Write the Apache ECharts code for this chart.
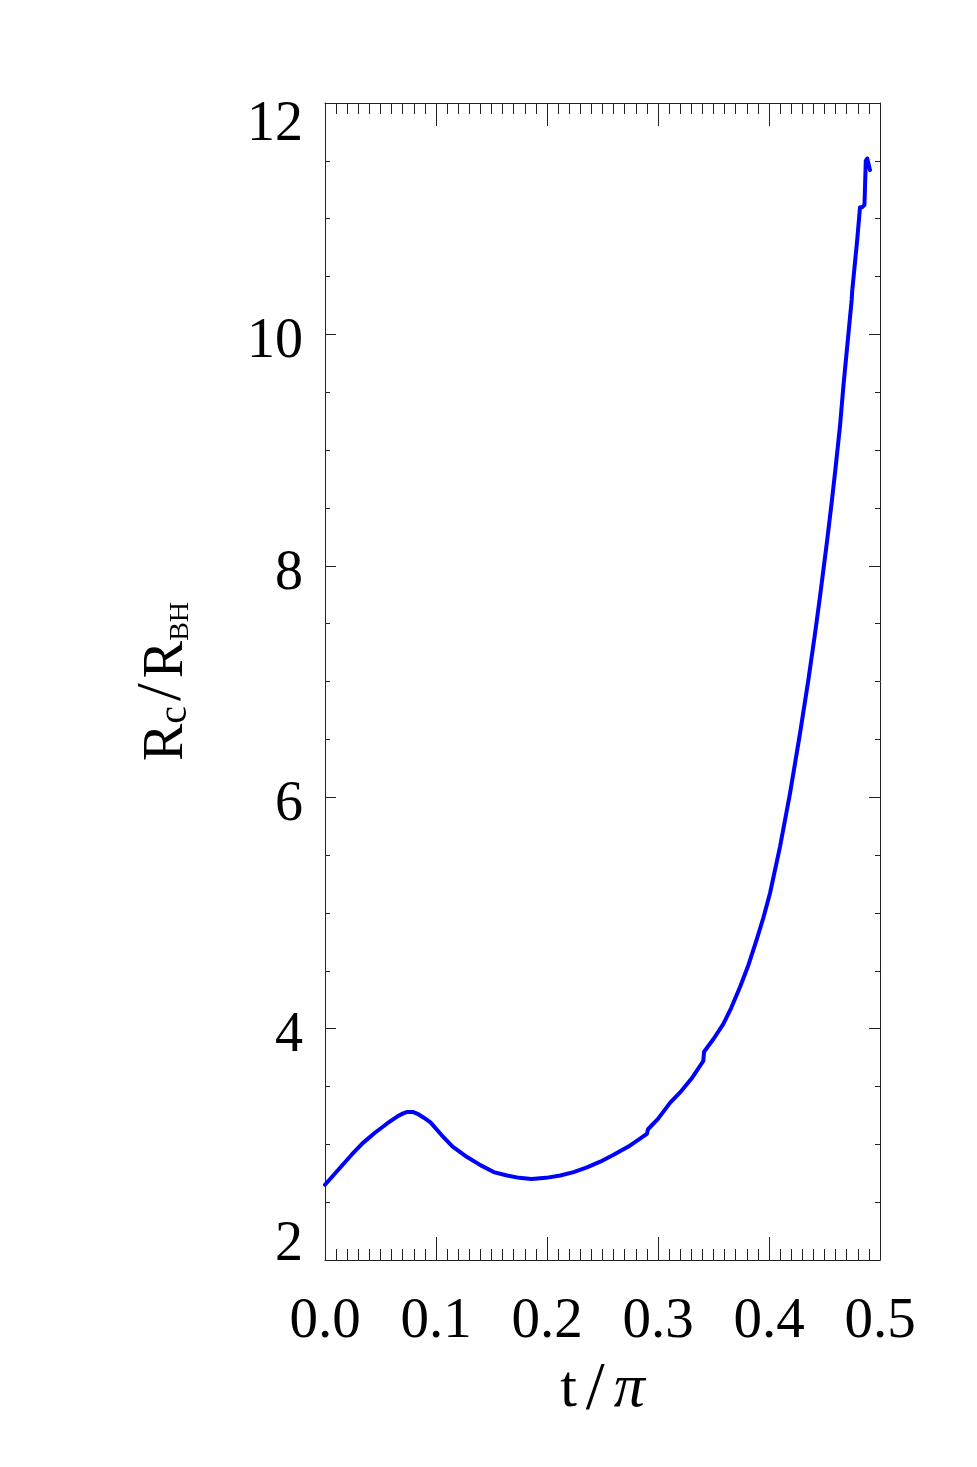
<!DOCTYPE html>
<html>
<head>
<meta charset="utf-8">
<script src="https://cdn.jsdelivr.net/npm/echarts@6/dist/echarts.min.js"></script>
<style>
html,body{margin:0;padding:0;background:#fff;}
#chart{width:977px;height:1467px;}
</style>
</head>
<body>
<div id="chart"></div>
<script>
// t / pi values
const tValues = [0, 0.012, 0.024, 0.034, 0.045, 0.056, 0.065, 0.070, 0.074, 0.079, 0.084, 0.089, 0.095, 0.105, 0.115, 0.128, 0.140, 0.152, 0.164, 0.175, 0.186, 0.199, 0.212, 0.224, 0.236, 0.248, 0.260, 0.275, 0.290, 0.291, 0.300, 0.311, 0.321, 0.3304, 0.3408, 0.3415, 0.350, 0.3589, 0.366, 0.3739, 0.3815, 0.3889, 0.395, 0.4009, 0.4099, 0.4189, 0.4279, 0.4354, 0.4414, 0.4459, 0.4520, 0.4565, 0.4600, 0.4640, 0.4670, 0.4710, 0.4745, 0.4750, 0.4795, 0.4820, 0.4840, 0.4860, 0.4872, 0.4885, 0.4910];
// R_c / R_BH values
const rValues = [2.65, 2.78, 2.91, 3.01, 3.10, 3.18, 3.24, 3.265, 3.28, 3.28, 3.26, 3.23, 3.19, 3.08, 2.98, 2.89, 2.82, 2.76, 2.73, 2.71, 2.70, 2.71, 2.73, 2.76, 2.80, 2.85, 2.91, 2.99, 3.09, 3.13, 3.22, 3.36, 3.46, 3.57, 3.72, 3.80, 3.91, 4.04, 4.18, 4.36, 4.55, 4.77, 4.96, 5.17, 5.57, 6.03, 6.55, 7.01, 7.41, 7.73, 8.19, 8.55, 8.85, 9.21, 9.55, 9.95, 10.30, 10.38, 10.82, 11.10, 11.10, 11.12, 11.50, 11.52, 11.42];
const xTickLabels = ['0.0', '0.1', '0.2', '0.3', '0.4', '0.5'];
const yTickLabels = ['2', '4', '6', '8', '10', '12'];

const FONT = 'Liberation Serif';
const AX = '#222';
const seriesData = tValues.map((t, i) => [t, rValues[i]]);

const chart = echarts.init(document.getElementById('chart'), null, {renderer: 'canvas'});

const tokenBase = {fontFamily: FONT, fontSize: 56, lineHeight: 56, color: '#000'};

const xBase = (pos, showLabels) => ({
  type: 'value', position: pos, min: 0, max: 0.5, interval: 0.1,
  axisLine: {show: true, onZero: false, lineStyle: {color: AX, width: 1}},
  axisTick: {show: true, inside: true, length: 23, lineStyle: {color: AX, width: 1}},
  minorTick: {show: true, splitNumber: 10, length: 11, lineStyle: {color: AX, width: 1}},
  splitLine: {show: false},
  axisLabel: {
    show: showLabels, margin: 34, fontFamily: FONT, fontSize: 57, color: '#000',
    formatter: v => xTickLabels[Math.round(v * 10)]
  }
});
const yBase = (pos, showLabels) => ({
  type: 'value', position: pos, min: 2, max: 12, interval: 2,
  axisLine: {show: true, onZero: false, lineStyle: {color: AX, width: 1}},
  axisTick: {show: true, inside: true, length: 11, lineStyle: {color: AX, width: 1}},
  minorTick: {show: true, splitNumber: 4, length: 5, lineStyle: {color: AX, width: 1}},
  splitLine: {show: false},
  axisLabel: {
    show: showLabels, margin: 22, fontFamily: FONT, fontSize: 56, color: '#000',
    formatter: v => {
      const i = Math.round((v - 2) / 2);
      const key = i === yTickLabels.length - 1 ? 'hi' : (i === 0 ? 'lo' : 'mid');
      return '{' + key + '|' + yTickLabels[i] + '}';
    },
    rich: {
      hi: Object.assign({}, tokenBase, {padding: [44, 0, 0, 0]}),
      mid: Object.assign({}, tokenBase, {padding: [16, 0, 0, 0]}),
      lo: Object.assign({}, tokenBase, {padding: [0, 0, 30, 0]})
    }
  }
});

const xBottom = xBase('bottom', true);
xBottom.name = '{t|t}{s|/}{p|π}';
xBottom.nameLocation = 'middle';
xBottom.nameGap = 96;
xBottom.nameTextStyle = {
  fontFamily: FONT, fontSize: 58, color: '#000',
  rich: {
    t: {fontFamily: FONT, fontSize: 60, color: '#000'},
    s: {fontFamily: FONT, fontSize: 68, color: '#000', padding: [0, 9, 0, 9]},
    p: {fontFamily: FONT, fontSize: 62, fontStyle: 'italic', color: '#000'}
  }
};

const yLeft = yBase('left', true);
yLeft.name = '{R|R}{c|c}{s|/}{R|R}{b|BH}';
yLeft.nameLocation = 'middle';
yLeft.nameRotate = 90;
yLeft.nameGap = 130;
yLeft.nameTextStyle = {
  fontFamily: FONT, color: '#000',
  rich: {
    R: {fontFamily: FONT, fontSize: 56, lineHeight: 56, verticalAlign: 'bottom', color: '#000'},
    s: {fontFamily: FONT, fontSize: 64, lineHeight: 56, verticalAlign: 'bottom', color: '#000', padding: [0, 5, 0, 5]},
    c: {fontFamily: FONT, fontSize: 40, lineHeight: 40, verticalAlign: 'bottom', color: '#000'},
    b: {fontFamily: FONT, fontSize: 28, lineHeight: 28, verticalAlign: 'bottom', color: '#000'}
  }
};

chart.setOption({
  backgroundColor: '#fff',
  animation: false,
  grid: {left: 325, right: 97, top: 103, bottom: 207, show: false},
  xAxis: [xBottom, xBase('top', false)],
  yAxis: [yLeft, yBase('right', false)],
  series: [{
    type: 'line', xAxisIndex: 0, yAxisIndex: 0,
    data: seriesData, showSymbol: false, symbol: 'none',
    smooth: false,
    lineStyle: {color: '#0000ff', width: 4, join: 'round', cap: 'round'},
    clip: true
  }]
});
</script>
</body>
</html>
